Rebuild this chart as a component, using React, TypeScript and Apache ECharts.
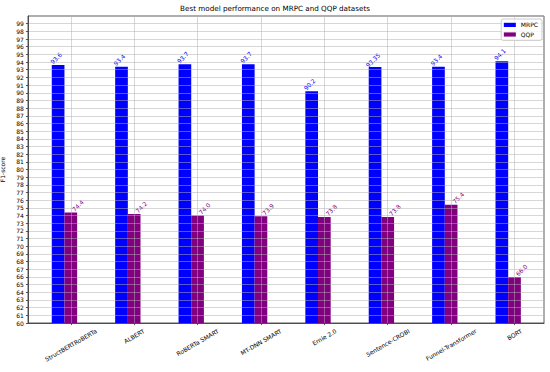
import React, { useEffect, useRef } from "react";
import * as echarts from "echarts";

const categories = [
  "StructBERTRoBERTa",
  "ALBERT",
  "RoBERTa SMART",
  "MT-DNN SMART",
  "Ernie 2.0",
  "Sentence-CROBI",
  "Funnel-Transformer",
  "BORT",
];
const mrpcValues = [93.6, 93.4, 93.7, 93.7, 90.2, 93.35, 93.4, 94.1];
const qqpValues = [74.4, 74.2, 74.0, 73.9, 73.8, 73.8, 75.4, 66.0];
const mrpcLabels = ["93.6", "93.4", "93.7", "93.7", "90.2", "93.35", "93.4", "94.1"];
const qqpLabels = ["74.4", "74.2", "74.0", "73.9", "73.8", "73.8", "75.4", "66.0"];
const yMin = 60;
const yMax = 100;
const xMin = -0.675;
const xMax = 7.465;
const categoryTicks = categories.map((_, i) => i);

const FONT = "DejaVu Sans";
const FS = 6;
const TITLE_FS = 7.2;
const BAR_W = 0.2;
const LINE = "#333";

let measureCtx: CanvasRenderingContext2D | null = null;
function measure(text: string, size: number): number {
  if (!measureCtx) {
    const c = document.createElement("canvas");
    measureCtx = c.getContext("2d");
  }
  if (!measureCtx) return text.length * size * 0.6;
  measureCtx.font = `${size}px "${FONT}"`;
  return measureCtx.measureText(text).width;
}

function barSeries(
  name: string,
  values: number[],
  labels: string[],
  color: string,
  xShift: number,
  labelDx: number
) {
  const a = Math.PI / 4;
  return {
    name,
    type: "custom",
    z: 1,
    clip: false,
    itemStyle: { color },
    encode: { x: 0, y: 1 },
    data: values.map((v, i) => [i + xShift, v]),
    renderItem: (params: any, api: any) => {
      const x = api.value(0);
      const v = api.value(1);
      const tl = api.coord([x - BAR_W / 2, v]);
      const br = api.coord([x + BAR_W / 2, yMin]);
      const lp = api.coord([x + labelDx, v]);
      const text = labels[params.dataIndex];
      return {
        type: "group",
        children: [
          {
            type: "rect",
            shape: { x: tl[0], y: tl[1], width: br[0] - tl[0], height: br[1] - tl[1] },
            style: { fill: color },
          },
          {
            type: "text",
            x: lp[0],
            y: lp[1] - 7,
            rotation: a,
            style: {
              text,
              fontFamily: FONT,
              fontSize: FS,
              fill: color,
              align: "center",
              verticalAlign: "middle",
            },
          },
        ],
      };
    },
  };
}

export default function App() {
  const ref = useRef<HTMLDivElement>(null);
  useEffect(() => {
    if (!ref.current) return;
    document.body.style.margin = "0";
    const chart = echarts.init(ref.current, null, { renderer: "svg" });
    const angle = Math.PI / 6;
    const gridColor = "rgba(176,176,176,0.5)";
    chart.setOption({
      animation: false,
      backgroundColor: "#fff",
      title: {
        text: "Best model performance on MRPC and QQP datasets",
        left: "center",
        top: 0,
        padding: [5.4, 0, 0, 22],
        textStyle: { fontFamily: FONT, fontSize: TITLE_FS, fontWeight: "normal", color: "#000" },
      },
      legend: {
        data: ["MRPC", "QQP"],
        orient: "vertical",
        right: 8,
        top: 19,
        icon: "rect",
        itemWidth: 12,
        itemHeight: 4.2,
        itemGap: 3,
        padding: [2.6, 4, 2.6, 2.6],
        borderColor: "#cccccc",
        borderWidth: 1,
        borderRadius: 2,
        backgroundColor: "rgba(255,255,255,0.8)",
        textStyle: { fontFamily: FONT, fontSize: FS, color: "#000", lineHeight: 6.6 },
        z: 10,
      },
      grid: {
        left: 28,
        right: 6,
        top: 16,
        bottom: 49,
        show: true,
        borderColor: LINE,
        borderWidth: 0.8,
        backgroundColor: "transparent",
        containLabel: false,
        outerBoundsMode: "none",
      },
      xAxis: {
        type: "value",
        min: xMin,
        max: xMax,
        z: 3,
        axisLine: { show: true, onZero: false, lineStyle: { color: LINE, width: 0.8 } },
        axisTick: { show: true, customValues: categoryTicks, length: 2.1, lineStyle: { color: LINE, width: 0.8 } },
        axisLabel: { show: false, customValues: categoryTicks },
        splitLine: { show: true, lineStyle: { color: gridColor, width: 1 } },
      },
      yAxis: {
        type: "value",
        min: yMin,
        max: yMax,
        interval: 1,
        z: 3,
        name: "F1-score",
        nameLocation: "middle",
        nameGap: 12,
        nameTextStyle: { fontFamily: FONT, fontSize: FS, color: "#000" },
        axisLine: { show: true, onZero: false, lineStyle: { color: LINE, width: 0.8 } },
        axisTick: { show: true, length: 2.1, lineStyle: { color: LINE, width: 0.8 } },
        axisLabel: {
          showMaxLabel: false,
          margin: 4.2,
          fontFamily: FONT,
          fontSize: FS,
          color: "#000",
        },
        splitLine: { show: true, lineStyle: { color: gridColor, width: 1 } },
      },
      series: [
        barSeries("MRPC", mrpcValues, mrpcLabels, "#0000ff", -0.2, -0.035),
        barSeries("QQP", qqpValues, qqpLabels, "#800080", 0, 0.11),
        {
          type: "custom",
          silent: true,
          clip: false,
          z: 5,
          data: categoryTicks.map((i) => [i, yMin]),
          encode: { x: 0, y: 1 },
          renderItem: (params: any, api: any) => {
            const idx = params.dataIndex;
            const text = categories[idx];
            const p = api.coord([api.value(0), yMin]);
            const L = measure(text, FS);
            const h = FS * 1.15;
            const bh = L * Math.sin(angle) + h * Math.cos(angle);
            return {
              type: "text",
              x: p[0],
              y: p[1] + 4.2 + bh / 2,
              rotation: angle,
              style: {
                text,
                fontFamily: FONT,
                fontSize: FS,
                fill: "#000",
                align: "center",
                verticalAlign: "middle",
              },
            };
          },
        },
      ],
    });
    return () => chart.dispose();
  }, []);
  return (
    <div
      ref={ref}
      style={{ position: "fixed", left: 0, top: 0, width: 550, height: 372 }}
    />
  );
}
